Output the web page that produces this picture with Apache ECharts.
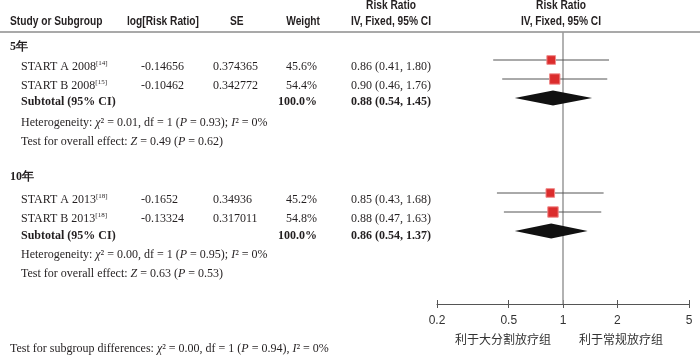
<!DOCTYPE html>
<html>
<head>
<meta charset="utf-8">
<script src="https://cdn.jsdelivr.net/npm/echarts@6/dist/echarts.min.js"></script>
<style>html,body{margin:0;padding:0;background:#fff;}#c{width:700px;height:356px;}</style>
</head>
<body>
<div id="c"></div>
<script>
// ---------- data ----------
const sections = ['5年', '10年'];
const studies = ['START A 2008', 'START B 2008', 'START A 2013', 'START B 2013'];
const studyRefs = ['[14]', '[15]', '[18]', '[18]'];
const logRR = ['-0.14656', '-0.10462', '-0.1652', '-0.13324'];
const seVals = ['0.374365', '0.342772', '0.34936', '0.317011'];
const weightPct = [45.6, 54.4, 45.2, 54.8];
const rr = [0.86, 0.90, 0.85, 0.88];
const ciLow = [0.41, 0.46, 0.43, 0.47];
const ciHigh = [1.80, 1.76, 1.68, 1.63];
const subRR = [0.88, 0.86];
const subLow = [0.54, 0.54];
const subHigh = [1.45, 1.37];
const subWeight = [100.0, 100.0];
const hetChi2 = ['0.01', '0.00'];
const hetDf = [1, 1];
const hetP = ['0.93', '0.95'];
const hetI2 = [0, 0];
const overallZ = ['0.49', '0.63'];
const overallP = ['0.62', '0.53'];
const diffChi2 = '0.00', diffDf = 1, diffP = '0.94', diffI2 = 0;
const xTicks = [0.2, 0.5, 1, 2, 5];
const favourLeft = '利于大分割放疗组';
const favourRight = '利于常规放疗组';
const headers = ['Study or Subgroup', 'log[Risk Ratio]', 'SE', 'Weight', 'Risk Ratio', 'IV, Fixed, 95% CI'];

// ---------- layout ----------
const studyRow = [0, 1, 7, 8];
const subRow = [2, 9];
const rowPx = 19, gridTop = 32, gridBottomY = 304, firstRowY = 60;
const yMin = -(firstRowY - gridTop) / rowPx;
const yMax = yMin + (gridBottomY - gridTop) / rowPx;
const sectionY = [47, 177];
const studyY = [67, 86, 200, 219];
const subY = [102, 236];
const hetY = [123, 255];
const testY = [142, 274];
const bottomY = 349;

const SERIF = '"Liberation Serif", "DejaVu Serif", serif';
const SANSN = '"Liberation Sans Narrow", "Liberation Sans", Arial, sans-serif';
const SANS = '"Liberation Sans", Arial, sans-serif';
const CJK = '"Noto Sans CJK SC", sans-serif';
const TXT = '#231f20';

const fmt2 = v => v.toFixed(2);
const fmtCI = (a, l, h) => fmt2(a) + ' (' + fmt2(l) + ', ' + fmt2(h) + ')';

const richBase = {
  n: { fontFamily: SERIF, fontSize: 12, fill: TXT, lineHeight: 15 },
  b: { fontFamily: SERIF, fontSize: 12, fontWeight: 'bold', fill: TXT, lineHeight: 15 },
  i: { fontFamily: SERIF, fontSize: 12, fontStyle: 'italic', fill: TXT, lineHeight: 15 },
  sup: { fontFamily: SERIF, fontSize: 7, fill: TXT, verticalAlign: 'top', lineHeight: 15 }
};

function txt(x, y, text, align, extra, scaleX) {
  return {
    type: 'text', x: x, y: y, silent: true, scaleX: scaleX || 1,
    style: Object.assign({
      text: text, textAlign: align || 'left', textVerticalAlign: 'middle',
      fontFamily: SERIF, fontSize: 12, fill: TXT, rich: richBase
    }, extra || {})
  };
}

const graphics = [];
// header
const hStyle = { fontFamily: SANSN, fontSize: 12, fontWeight: 'bold', fill: TXT };
const HS = 0.85;
graphics.push(txt(10, 22, headers[0], 'left', hStyle, HS));
graphics.push(txt(127, 22, headers[1], 'left', hStyle, HS));
graphics.push(txt(230, 22, headers[2], 'left', hStyle, HS));
graphics.push(txt(320, 22, headers[3], 'right', hStyle, HS));
graphics.push(txt(391, 6, headers[4], 'center', hStyle, HS));
graphics.push(txt(391, 22, headers[5], 'center', hStyle, HS));
graphics.push(txt(561, 6, headers[4], 'center', hStyle, HS));
graphics.push(txt(561, 22, headers[5], 'center', hStyle, HS));
graphics.push({ type: 'line', silent: true, shape: { x1: 0, y1: 32, x2: 700, y2: 32 }, style: { stroke: '#8c8c8c', lineWidth: 1.5 } });

sections.forEach((s, si) => {
  graphics.push(txt(10, sectionY[si], '{b|' + s + '}'));
  studies.forEach((st, i) => {
    if ((i < 2 ? 0 : 1) !== si) return;
    graphics.push(txt(21, studyY[i], '{n|' + st + '}{sup|' + studyRefs[i] + '}'));
    graphics.push(txt(141, studyY[i], logRR[i]));
    graphics.push(txt(213, studyY[i], seVals[i]));
    graphics.push(txt(317, studyY[i], weightPct[i].toFixed(1) + '%', 'right'));
    graphics.push(txt(351, studyY[i], fmtCI(rr[i], ciLow[i], ciHigh[i])));
  });
  graphics.push(txt(21, subY[si], 'Subtotal (95% CI)', 'left', { fontWeight: 'bold' }));
  graphics.push(txt(317, subY[si], subWeight[si].toFixed(1) + '%', 'right', { fontWeight: 'bold' }));
  graphics.push(txt(351, subY[si], fmtCI(subRR[si], subLow[si], subHigh[si]), 'left', { fontWeight: 'bold' }));
  graphics.push(txt(21, hetY[si], '{n|Heterogeneity: }{i|χ}{n|² = ' + hetChi2[si] + ', df = ' + hetDf[si] + ' (}{i|P}{n| = ' + hetP[si] + '); }{i|I}{n|² = ' + hetI2[si] + '%}'));
  graphics.push(txt(21, testY[si], '{n|Test for overall effect: }{i|Z}{n| = ' + overallZ[si] + ' (}{i|P}{n| = ' + overallP[si] + ')}'));
});
graphics.push(txt(10, bottomY, '{n|Test for subgroup differences: }{i|χ}{n|² = ' + diffChi2 + ', df = ' + diffDf + ' (}{i|P}{n| = ' + diffP + '), }{i|I}{n|² = ' + diffI2 + '%}'));
graphics.push(txt(503, 339, favourLeft, 'center', { fontFamily: CJK, fontSize: 12, fill: '#333' }));
graphics.push(txt(621, 339, favourRight, 'center', { fontFamily: CJK, fontSize: 12, fill: '#333' }));

const studyData = studies.map((s, i) => [rr[i], ciLow[i], ciHigh[i], studyRow[i], weightPct[i]]);
const subData = subRR.map((v, i) => [v, subLow[i], subHigh[i], subRow[i]]);

const chart = echarts.init(document.getElementById('c'), null, { renderer: 'canvas' });
chart.setOption({
  animation: false,
  backgroundColor: '#fff',
  grid: { left: 437, right: 11, top: gridTop, bottom: 356 - gridBottomY, containLabel: false },
  xAxis: [{
    type: 'log', logBase: 10, min: 0.2, max: 5, position: 'bottom',
    axisLine: { show: true, onZero: false, lineStyle: { color: '#555', width: 1 } },
    axisTick: { show: true, customValues: xTicks, length: 4, lineStyle: { color: '#555' } },
    axisLabel: { customValues: xTicks, color: '#333', fontFamily: SANS, fontSize: 12, margin: 11, formatter: v => String(v) },
    splitLine: { show: false }, minorTick: { show: false }
  }, {
    type: 'log', logBase: 10, min: 0.2, max: 5, position: 'bottom',
    axisLine: { show: false, onZero: false },
    axisTick: { show: true, inside: true, customValues: xTicks, length: 4, lineStyle: { color: '#555' } },
    axisLabel: { show: false }, splitLine: { show: false }
  }],
  yAxis: { type: 'value', inverse: true, min: yMin, max: yMax, show: false },
  graphic: graphics,
  series: [{
    type: 'line', silent: true, symbol: 'none', z: 1,
    data: [[1, yMin], [1, yMax]],
    lineStyle: { color: '#999', width: 1.5 }
  }, {
    type: 'custom', z: 3, silent: true,
    encode: { x: [0, 1, 2], y: 3 },
    data: studyData,
    renderItem: function (params, api) {
      const row = api.value(3);
      const lo = api.coord([api.value(1), row]);
      const hi = api.coord([api.value(2), row]);
      const c = api.coord([api.value(0), row]);
      const s = api.value(4) * 0.19;
      return { type: 'group', children: [
        { type: 'line', shape: { x1: lo[0], y1: lo[1], x2: hi[0], y2: hi[1] }, style: { stroke: '#555', lineWidth: 1 } },
        { type: 'rect', shape: { x: c[0] - s / 2, y: c[1] - s / 2, width: s, height: s }, style: { fill: '#db2c2c', stroke: '#f08a8a', lineWidth: 1 } }
      ] };
    }
  }, {
    type: 'custom', z: 3, silent: true,
    encode: { x: [0, 1, 2], y: 3 },
    data: subData,
    renderItem: function (params, api) {
      const row = api.value(3);
      const lo = api.coord([api.value(1), row]);
      const hi = api.coord([api.value(2), row]);
      const c = api.coord([api.value(0), row]);
      const h = 7.5;
      return { type: 'polygon', shape: { points: [[lo[0], lo[1]], [c[0], c[1] - h], [hi[0], hi[1]], [c[0], c[1] + h]] }, style: { fill: '#111' } };
    }
  }]
});
</script>
</body>
</html>
